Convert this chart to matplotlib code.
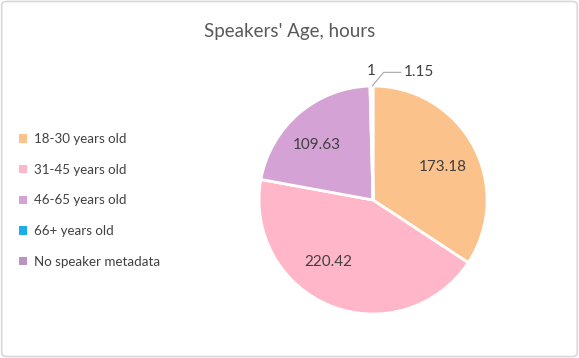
import numpy as np
import matplotlib.pyplot as plt
from matplotlib.patches import FancyBboxPatch

plt.rcParams['font.family'] = ['Lato', 'DejaVu Sans']

categories = ['18-30 years old', '31-45 years old', '46-65 years old',
              '66+ years old', 'No speaker metadata']
hours = [173.18, 220.42, 109.63, 1, 1.15]
value_labels = ['173.18', '220.42', '109.63', '1', '1.15']
colors = ['#FCC28C', '#FFB6C8', '#D4A2D4', '#1AAEE8', '#BC94C4']

text_color = '#404040'

fig = plt.figure(figsize=(5.79, 3.58), dpi=100)
fig.patches.append(FancyBboxPatch((0.003, 0.004), 0.994, 0.992,
                                  boxstyle='round,pad=0,rounding_size=0.01',
                                  transform=fig.transFigure, facecolor='none',
                                  edgecolor='#d9d9d9', linewidth=1.2, zorder=-1))

fig.text(0.5, 0.913, "Speakers' Age, hours", ha='center', va='center',
         fontsize=13.5, color='#595959')

# pie axes
cx, cy, r = 373, 200, 114
ax = fig.add_axes([(cx - r) / 579, (358 - cy - r) / 358, 2 * r / 579, 2 * r / 358])
wedges, _ = ax.pie(hours, colors=colors, startangle=90, counterclock=False,
                   wedgeprops=dict(edgecolor='white', linewidth=2))
ax.set_xlim(-1, 1)
ax.set_ylim(-1, 1)
ax.set_aspect('auto')
ax.axis('off')

# label placement (best-fit style, in pie radius units)
label_pos = [(0.61, 0.29), (-0.39, -0.54), (-0.49, 0.48)]
for i in range(3):
    ax.text(*label_pos[i], value_labels[i], ha='center', va='center',
            fontsize=11, color=text_color)

ax.text(-0.02, 1.13, value_labels[3], ha='center', va='center',
        fontsize=11, color=text_color, clip_on=False)
w = wedges[4]
ang = np.deg2rad((w.theta1 + w.theta2) / 2)
ax.annotate(value_labels[4], xy=(np.cos(ang), np.sin(ang)), xytext=(0.27, 1.12),
            ha='left', va='center', fontsize=11, color=text_color,
            arrowprops=dict(arrowstyle='-', color='#a6a6a6', lw=0.8,
                            shrinkA=0, shrinkB=0,
                            connectionstyle='angle,angleA=0,angleB=50'),
            annotation_clip=False)

# legend
handles = [plt.Rectangle((0, 0), 1, 1, facecolor=c) for c in colors]
fig.legend(handles, categories, loc='center left', bbox_to_anchor=(0.012, 0.44),
           frameon=False, fontsize=9.6, labelcolor=text_color,
           handlelength=0.6, handleheight=0.6, handletextpad=0.55,
           labelspacing=1.4)

fig.savefig('out.png', dpi=100)
